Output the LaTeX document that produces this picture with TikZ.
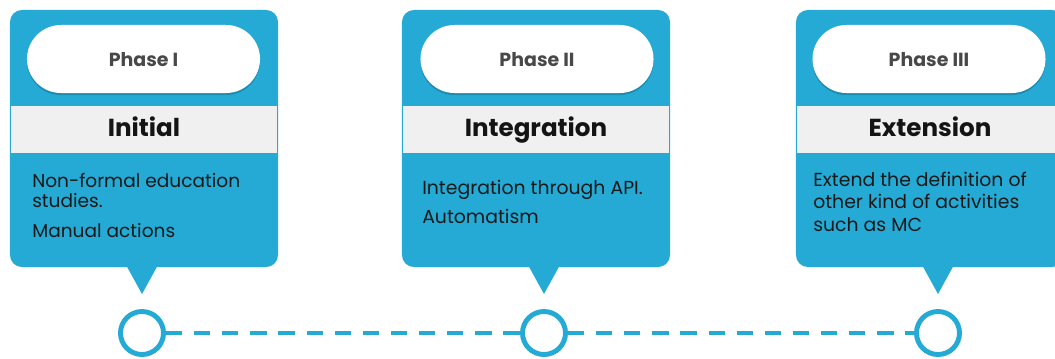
\documentclass[tikz,border=0pt]{standalone}
\usepackage{fontspec}
\setmainfont{Poppins}
\usepackage{tikz}
\usetikzlibrary{shadows}
\definecolor{phaseblue}{RGB}{36,170,213}
\definecolor{bandgray}{RGB}{240,240,240}
\definecolor{phasegray}{RGB}{72,72,72}
\tikzstyle{phasebox} = [rectangle, 
rounded corners=0.3cm, 
minimum width=6.7cm, 
minimum height=6.425cm, 
inner sep=0, 
fill=phaseblue]
\tikzstyle{pill} = [rectangle, 
rounded corners=0.85cm, 
minimum width=5.825cm, 
minimum height=1.7cm, 
fill=white, 
text=phasegray, 
text height=1.03em, 
text depth=0pt, 
font=\fontsize{13.5}{15}\selectfont\bfseries, 
drop shadow={shadow xshift=0pt, shadow yshift=-1.5pt, opacity=0.18, fill=black}]
\tikzstyle{band} = [rectangle, 
minimum width=6.65cm, 
minimum height=1.175cm, 
fill=bandgray, 
text=black!92, 
text height=0.96em, 
text depth=0pt, 
font=\fontsize{17.5}{20}\selectfont\bfseries]
\tikzstyle{bodytext} = [anchor=base west, align=left, inner sep=0, text=black!90]
\tikzstyle{milestone} = [circle, draw=phaseblue, line width=3.5pt, fill=white, minimum size=1.075cm, inner sep=0]
\tikzstyle{timeline} = [phaseblue, line width=2.8pt, dash pattern=on 11.5pt off 8.5pt]

\begin{document}
\begin{tikzpicture}[x=0.025cm, y=-0.025cm]
    \clip (0,0) rectangle (1055,358);

    % milestones on the time line
    \node (m1) [milestone] at (142,333) {};
    \node (m2) [milestone] at (544,333) {};
    \node (m3) [milestone] at (938,333) {};

    \coordinate (tip1) at (142,294);
    \coordinate (tip2) at (544,294);
    \coordinate (tip3) at (938,294);

    % phase boxes with their pointers
    \fill [phaseblue] (tip1) -- ++(-16.5,-30) -- ++(33,0) -- cycle;
    \fill [phaseblue] (tip2) -- ++(-16.5,-30) -- ++(33,0) -- cycle;
    \fill [phaseblue] (tip3) -- ++(-16.5,-30) -- ++(33,0) -- cycle;

    \node (box1) [phasebox] at (144,138.5) {};
    \node (box2) [phasebox] at (536,138.5) {};
    \node (box3) [phasebox] at (930,138.5) {};

    \node (p1) [pill] at (143.5,59) {Phase I};
    \node (p2) [pill] at (537,59) {Phase II};
    \node (p3) [pill] at (929,59) {Phase III};

    \node (b1) [band] at (144,129.5) {Initial};
    \node (b2) [band] at (536,129.5) {Integration};
    \node (b3) [band] at (930,129.5) {Extension};

    % texts sit on the baseline of their last line
    \node (d1) [bodytext, font=\fontsize{13.2}{14.2}\selectfont] at (32,237)
        {Non-formal education\\studies.\\[7pt]Manual actions};
    \node (d2) [bodytext, font=\fontsize{13.4}{14.2}\selectfont] at (422,223)
        {Integration through API.\\[6.3pt]Automatism};
    \node (d3) [bodytext, font=\fontsize{13.4}{16}\selectfont] at (813,231)
        {Extend the definition of\\other kind of activities\\such as MC};

    % dashed time line
    \draw [timeline] (m1.east) -- (m2.west);
    \draw [timeline] (m2.east) -- (m3.west);
  \end{tikzpicture}
\end{document}
